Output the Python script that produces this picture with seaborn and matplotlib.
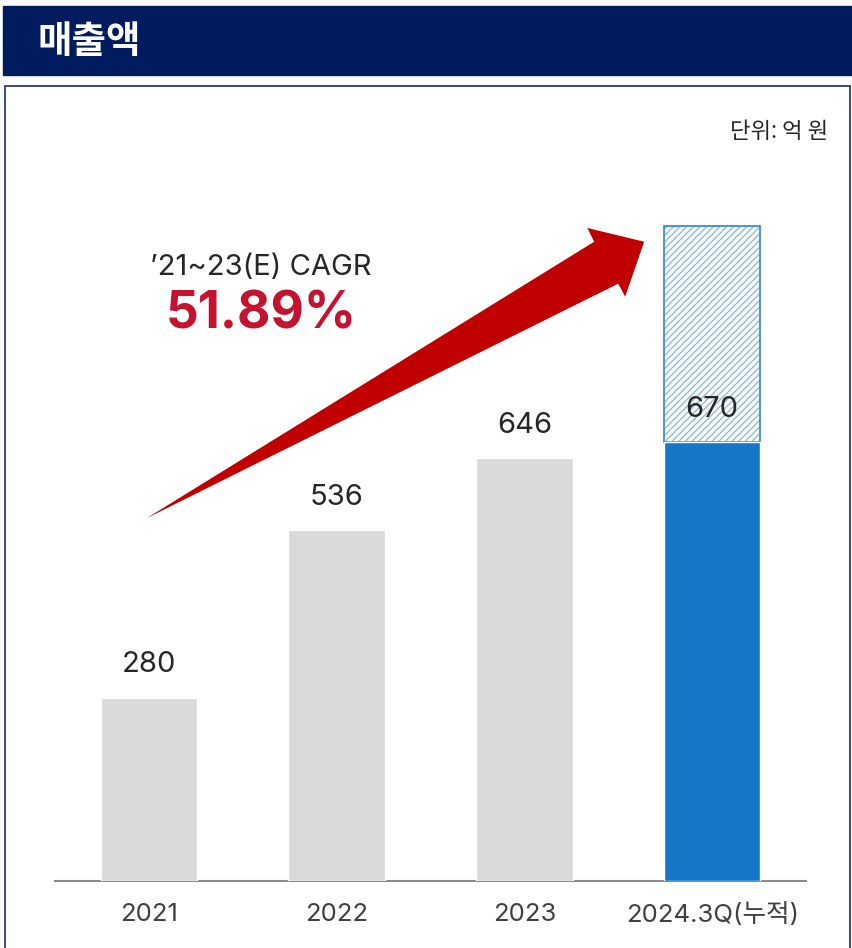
import numpy as np
import pandas as pd
import matplotlib.pyplot as plt
from matplotlib.patches import Rectangle, Polygon
import seaborn as sns

# data
years = ['2021', '2022', '2023', '2024.3Q(누적)']
sales = [280, 536, 646, 670]
projected_2024 = 1000
bar_colors = ['#d9d9d9', '#d9d9d9', '#d9d9d9', '#1577c7']
cagr_label = '\u201921~23(E) CAGR'
cagr_value = '51.89%'

sns.set_style('white')
plt.rcParams['font.family'] = ['Inter', 'Noto Sans CJK KR', 'DejaVu Sans']

df = pd.DataFrame({'year': years, 'sales': sales})

fig = plt.figure(figsize=(8.52, 9.48), dpi=100)

# header bar + frame
fig.patches.append(Rectangle((3 / 852, 1 - 75 / 948), 849 / 852, 69 / 948,
                             transform=fig.transFigure, color='#001b5e', zorder=0))
fig.text(37 / 852, 1 - 41 / 948, '매출액', color='white', fontsize=27, fontweight='bold',
         family=['Noto Sans CJK KR'], va='center', ha='left')
fig.patches.append(Rectangle((5 / 852, -0.05), 845 / 852, 1 - 86 / 948 + 0.05,
                             transform=fig.transFigure, fill=False,
                             edgecolor='#2b3a7a', lw=1.3, zorder=0))
fig.text(828 / 852, 1 - 132 / 948, '단위: 억 원', color='#262626', fontsize=16,
         family=['Noto Sans CJK KR'], ha='right', va='center')

ax = fig.add_axes([55 / 852, 67 / 948, 751 / 852, 786 / 948])

w = 0.515
# projected full-year 2024 (hatched part above the actual value)
ax.bar(3, projected_2024 - sales[3], bottom=sales[3], width=w, color='white',
       edgecolor='#8dbbe6', hatch='/////', lw=0, zorder=1)
ax.add_patch(Rectangle((3 - w / 2, sales[3]), w, projected_2024 - sales[3],
                       fill=False, edgecolor='#3d8fd8', lw=1.3, zorder=2))

sns.barplot(data=df, x='year', y='sales', hue='year', palette=bar_colors,
            legend=False, width=w, saturation=1, ax=ax, zorder=3)

for i, v in enumerate(sales):
    ax.text(i, v + 50, str(v), ha='center', va='center', fontsize=21, color='#262626', zorder=5)

# growth arrow
arrow_pts = [(-0.011, 554), (2.372, 976), (2.335, 997), (2.638, 976),
             (2.537, 892), (2.500, 912)]
ax.add_patch(Polygon(arrow_pts, closed=True, color='#c00000', lw=0, zorder=6, clip_on=False))

ax.text(0.596, 936, cagr_label, ha='center', va='center', fontsize=21, color='#262626')
ax.text(0.60, 864, cagr_value, ha='center', va='center', fontsize=37, fontweight='bold',
        color='#c4122f')

ax.set_xlim(-0.5, 3.5)
ax.set_ylim(0, 1200)
ax.set_xlabel('')
ax.set_ylabel('')
ax.set_yticks([])
ax.tick_params(axis='x', length=0, pad=16, labelsize=18.5, labelcolor='#404040')
for s in ['top', 'left', 'right']:
    ax.spines[s].set_visible(False)
ax.spines['bottom'].set_color('#8c8c8c')
ax.spines['bottom'].set_linewidth(1.5)
ax.patch.set_alpha(0)

fig.savefig('out.png', dpi=100)
